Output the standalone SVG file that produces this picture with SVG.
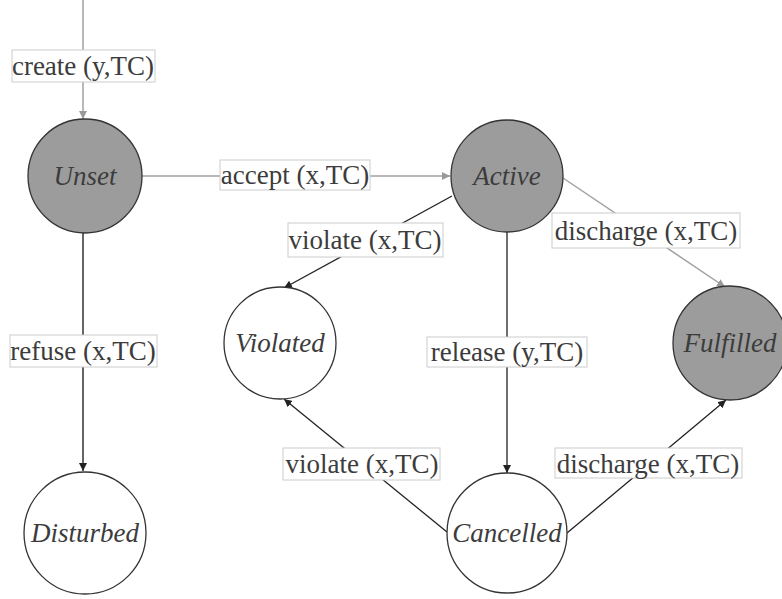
<svg xmlns="http://www.w3.org/2000/svg" width="782" height="599" viewBox="0 0 782 599">
<style>
.node circle{stroke:#333;stroke-width:1.3}
.filled circle{fill:#9c9c9c}
.empty circle{fill:#fff}
.nl{font-family:'Liberation Serif','Times New Roman',Times,'DejaVu Serif',serif;font-style:italic;font-size:27px;fill:#3c3c3c;text-anchor:middle}
.el{font-family:'Liberation Serif','Times New Roman',Times,'DejaVu Serif',serif;font-size:27px;fill:#3c3c3c;text-anchor:middle}
.lb{fill:#fff;stroke:#ccc;stroke-width:1}
.e{fill:none}
.light{stroke:#a0a0a0;stroke-width:1.5}
.mid{stroke:#666;stroke-width:2}
.dark{stroke:#222;stroke-width:1.3}
</style>
<defs>
<marker id="ag" markerWidth="9" markerHeight="9" refX="8" refY="4" orient="auto" markerUnits="userSpaceOnUse"><path d="M0,0 L8,4 L0,8 Z" fill="#999"/></marker>
<marker id="ad" markerWidth="9" markerHeight="9" refX="8" refY="4" orient="auto" markerUnits="userSpaceOnUse"><path d="M0,0 L8,4 L0,8 Z" fill="#222"/></marker>
</defs>
<rect width="782" height="599" fill="#fff"/>
<g id="connectors">
<line class="e light" x1="83" y1="0" x2="83" y2="119" marker-end="url(#ag)"/>
<line class="e light" x1="142" y1="176" x2="450" y2="176" marker-end="url(#ag)"/>
<line class="e dark" x1="452" y1="196" x2="284" y2="288" marker-end="url(#ad)"/>
<line class="e light" x1="563" y1="178" x2="725" y2="287" marker-end="url(#ag)"/>
<line class="e mid" x1="83" y1="233" x2="83" y2="471" marker-end="url(#ad)"/>
<line class="e dark" x1="507" y1="232" x2="507" y2="473" marker-end="url(#ad)"/>
<line class="e dark" x1="447" y1="532" x2="284" y2="399" marker-end="url(#ad)"/>
<line class="e dark" x1="567" y1="533" x2="726" y2="400" marker-end="url(#ad)"/>
<g id="labels">
<rect class="lb" x="12" y="50" width="143" height="32"/><text class="el" x="83" y="75" font-family="Liberation Serif, serif">create (y,TC)</text>
<rect class="lb" x="220" y="160" width="150" height="30"/><text class="el" x="295" y="184">accept (x,TC)</text>
<rect class="lb" x="288" y="223" width="155" height="34"/><text class="el" x="365" y="249">violate (x,TC)</text>
<rect class="lb" x="552" y="213" width="188" height="35"/><text class="el" x="646" y="240">discharge (x,TC)</text>
<rect class="lb" x="10" y="335" width="147" height="32"/><text class="el" x="83" y="360">refuse (x,TC)</text>
<rect class="lb" x="427" y="337" width="160" height="30"/><text class="el" x="507" y="361">release (y,TC)</text>
<rect class="lb" x="283" y="448" width="157" height="32"/><text class="el" x="362" y="473">violate (x,TC)</text>
<rect class="lb" x="555" y="448" width="187" height="30"/><text class="el" x="648" y="473">discharge (x,TC)</text>
</g>
</g>
<g id="unset" class="node filled"><circle cx="85" cy="176" r="57"/><text class="nl" x="85" y="185">Unset</text></g>
<g id="active" class="node filled"><circle cx="507" cy="176" r="56"/><text class="nl" x="507" y="185">Active</text></g>
<g id="violated" class="node empty"><circle cx="280" cy="343" r="56"/><text class="nl" x="280" y="352">Violated</text></g>
<g id="fulfilled" class="node filled"><circle cx="730" cy="343" r="57"/><text class="nl" x="730" y="352">Fulfilled</text></g>
<g id="disturbed" class="node empty"><circle cx="85" cy="533" r="61"/><text class="nl" x="85" y="542">Disturbed</text></g>
<g id="cancelled" class="node empty"><circle cx="507" cy="533" r="60"/><text class="nl" x="507" y="542">Cancelled</text></g>
</svg>
